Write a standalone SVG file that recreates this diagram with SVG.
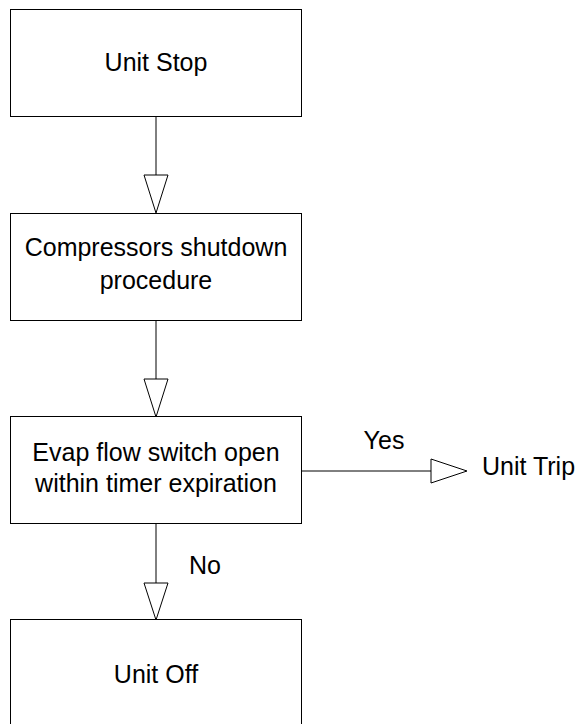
<svg xmlns="http://www.w3.org/2000/svg" width="579" height="724" viewBox="0 0 579 724">
<style>
.box{fill:#fff;stroke:#000;stroke-width:1}
.t{font-family:"Liberation Sans",Arial,sans-serif;font-size:25px;fill:#000;text-anchor:middle}
.tl{font-family:"Liberation Sans",Arial,sans-serif;font-size:25px;fill:#000}
.c{stroke:#000;stroke-width:1;fill:none}
.ah{fill:#fff;stroke:#000;stroke-width:1;stroke-linejoin:miter}
</style>
<rect width="579" height="724" fill="#fff"/>
<g id="connectors">
<line class="c" x1="156" y1="117" x2="156" y2="175"/>
<polygon class="ah" points="144,175 168,175 156,213"/>
<line class="c" x1="156" y1="321" x2="156" y2="379"/>
<polygon class="ah" points="144,379 168,379 156,417"/>
<line class="c" x1="156" y1="524" x2="156" y2="583"/>
<polygon class="ah" points="144,583 168,583 156,620"/>
<line class="c" x1="301" y1="471" x2="431" y2="471"/>
<polygon class="ah" points="431,459 431,483 467,471"/>
<text class="t" x="384" y="449">Yes</text>
<text class="t" x="205" y="574">No</text>
</g>
<g id="unit-stop">
<rect class="box" x="10.5" y="9.5" width="291" height="107"/>
<text class="t" x="156" y="71">Unit Stop</text>
</g>
<g id="compressors-shutdown">
<rect class="box" x="10.5" y="213.5" width="291" height="107"/>
<text class="t" x="156" y="256">Compressors shutdown</text>
<text class="t" x="156" y="289">procedure</text>
</g>
<g id="evap-flow-switch">
<rect class="box" x="10.5" y="416.5" width="291" height="107"/>
<text class="t" x="156" y="461">Evap flow switch open</text>
<text class="t" x="156" y="492">within timer expiration</text>
</g>
<g id="unit-trip">
<text class="tl" x="482" y="475">Unit Trip</text>
</g>
<g id="unit-off">
<rect class="box" x="10.5" y="619.5" width="291" height="110"/>
<text class="t" x="156" y="683">Unit Off</text>
</g>
</svg>
